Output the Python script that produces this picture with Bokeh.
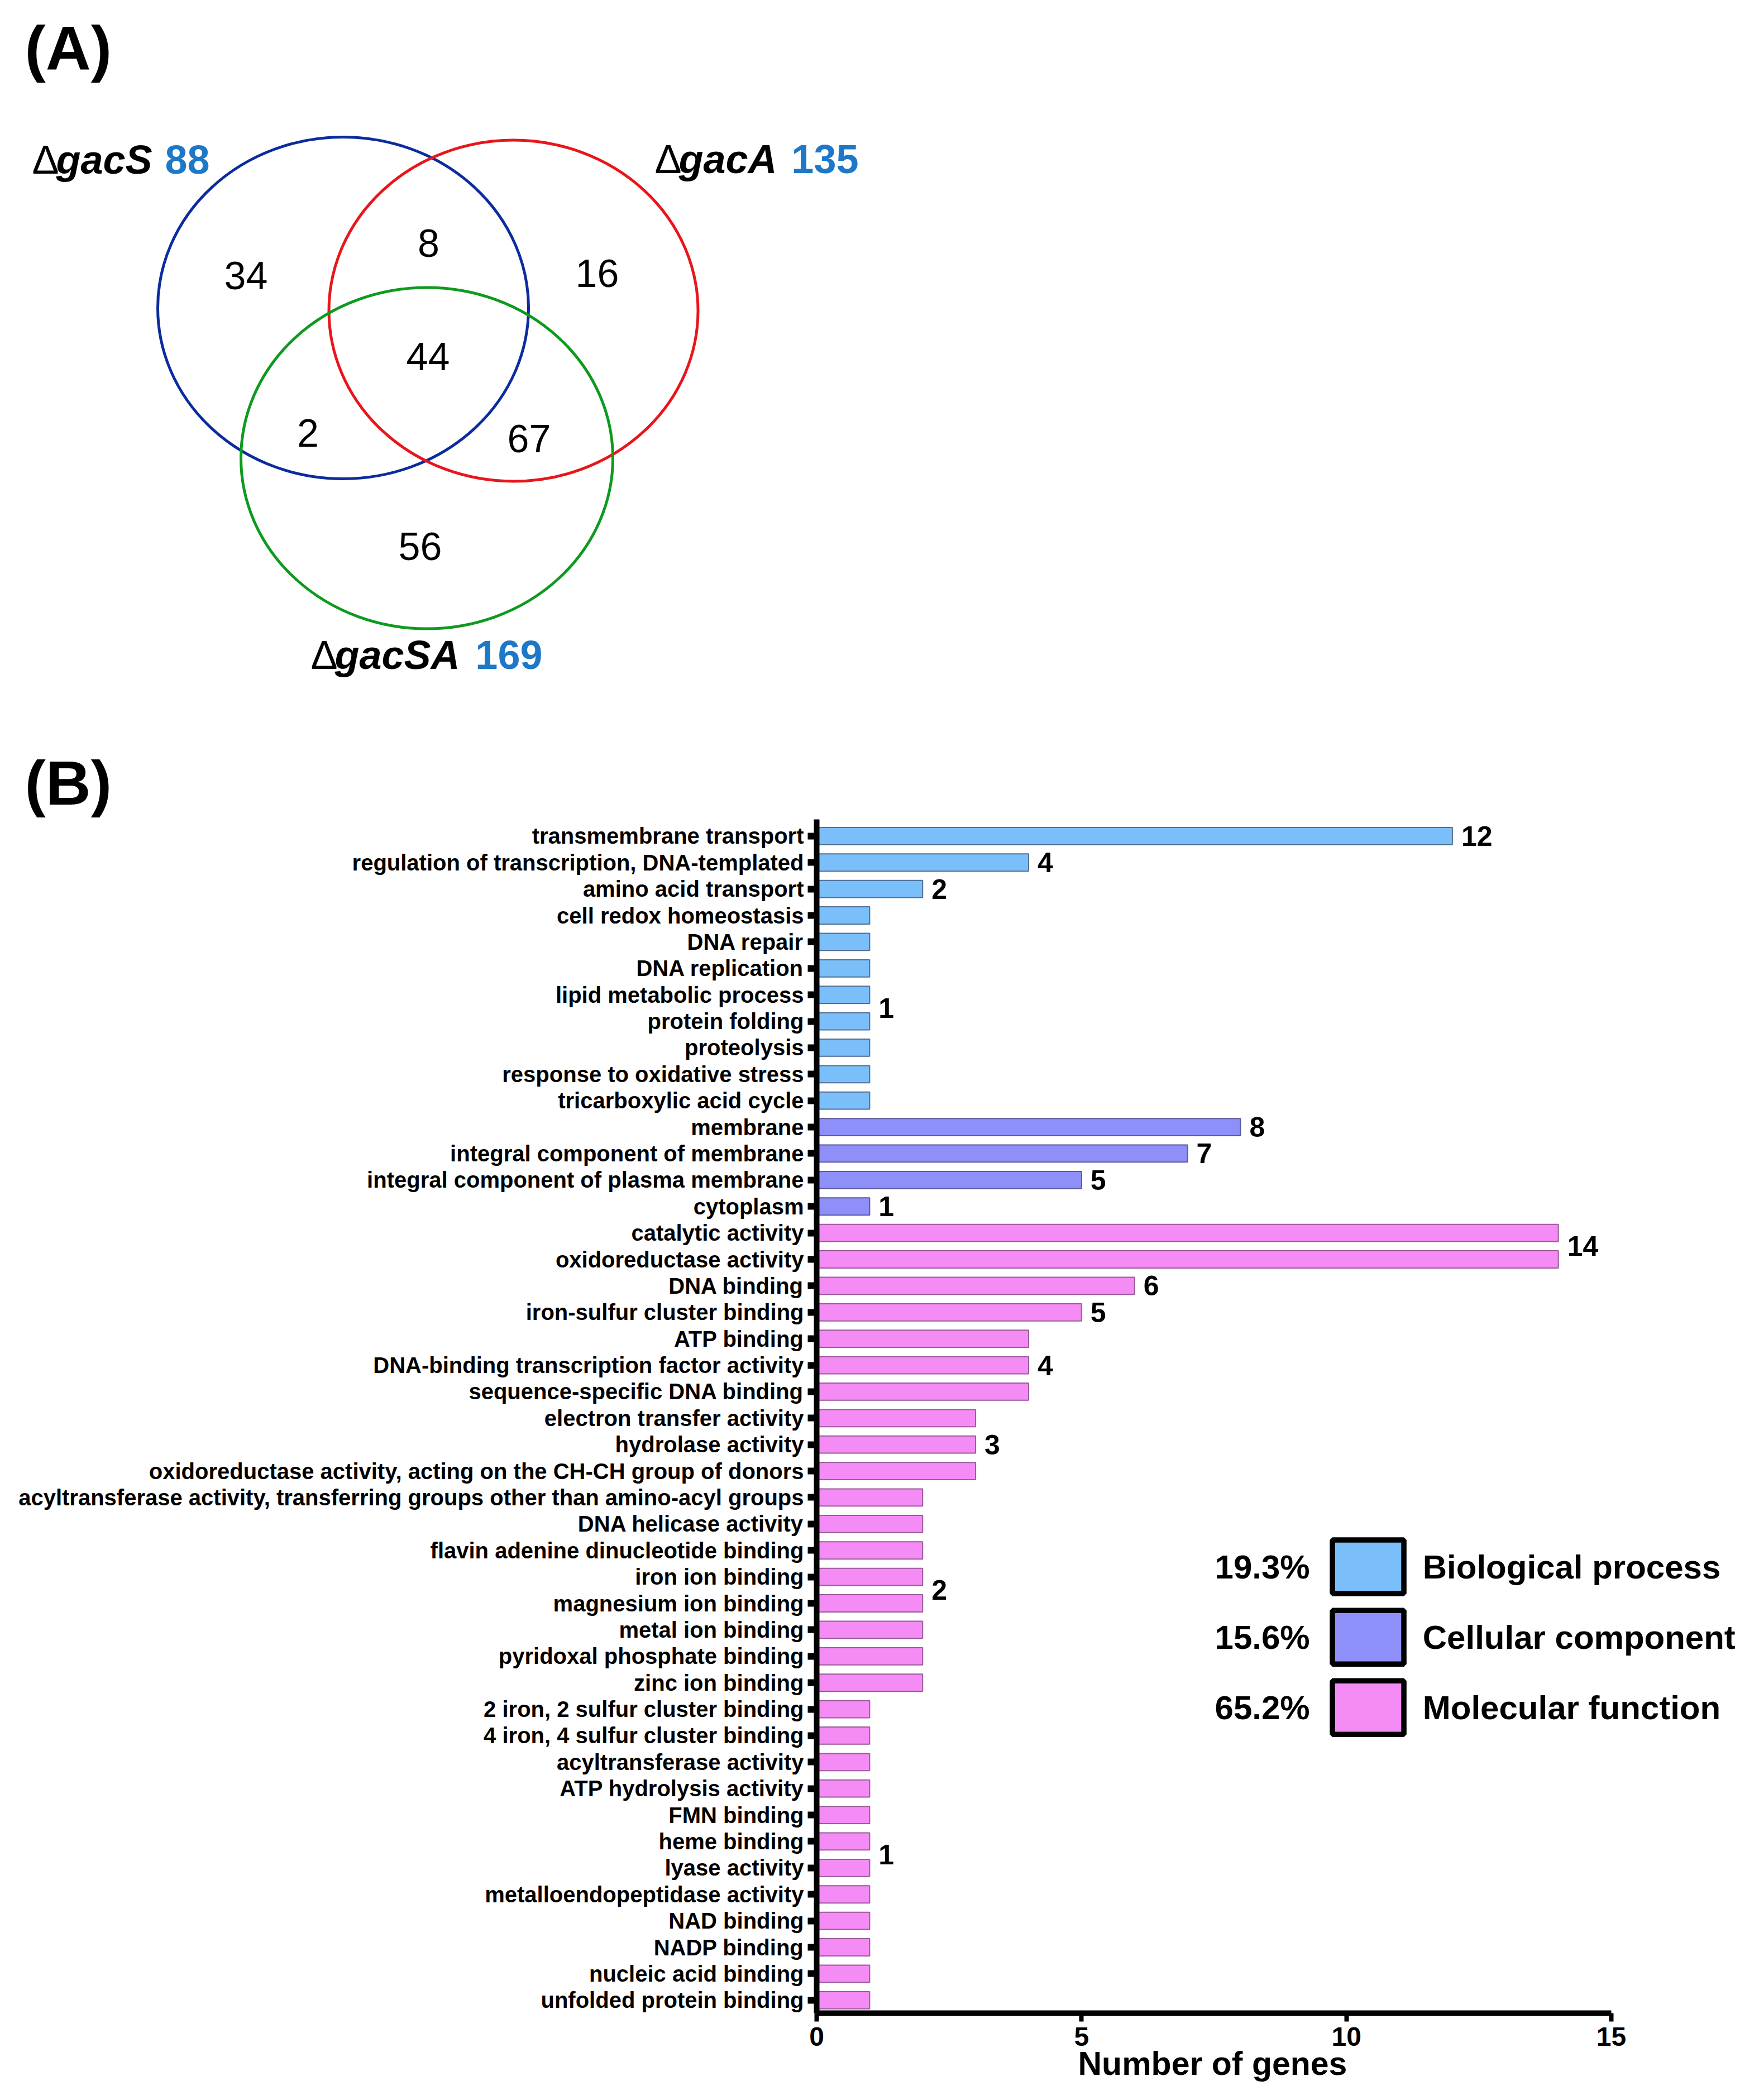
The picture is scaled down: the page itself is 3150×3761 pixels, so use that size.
from bokeh.plotting import figure
from bokeh.layouts import column
from bokeh.models import Range1d, FixedTicker, ColumnDataSource, LabelSet, Title
from bokeh.core.properties import value
from bokeh.embed import file_html
from bokeh.resources import INLINE

# ------------------------------------------------------------------ data
# (A) Venn diagram
venn_sets = ["gacS", "gacA", "gacSA"]
venn_totals = [88, 135, 169]
venn_regions = ["S", "A", "SA", "S&A", "S&SA", "A&SA", "S&A&SA"]
venn_counts = [34, 16, 56, 8, 2, 67, 44]

# (B) GO terms
bp_terms = ["transmembrane transport", "regulation of transcription, DNA-templated",
            "amino acid transport", "cell redox homeostasis", "DNA repair",
            "DNA replication", "lipid metabolic process", "protein folding",
            "proteolysis", "response to oxidative stress", "tricarboxylic acid cycle"]
bp_counts = [12, 4, 2, 1, 1, 1, 1, 1, 1, 1, 1]

cc_terms = ["membrane", "integral component of membrane",
            "integral component of plasma membrane", "cytoplasm"]
cc_counts = [8, 7, 5, 1]

mf_terms = ["catalytic activity", "oxidoreductase activity", "DNA binding",
            "iron-sulfur cluster binding", "ATP binding",
            "DNA-binding transcription factor activity", "sequence-specific DNA binding",
            "electron transfer activity", "hydrolase activity",
            "oxidoreductase activity, acting on the CH-CH group of donors",
            "acyltransferase activity, transferring groups other than amino-acyl groups",
            "DNA helicase activity", "flavin adenine dinucleotide binding",
            "iron ion binding", "magnesium ion binding", "metal ion binding",
            "pyridoxal phosphate binding", "zinc ion binding",
            "2 iron, 2 sulfur cluster binding", "4 iron, 4 sulfur cluster binding",
            "acyltransferase activity", "ATP hydrolysis activity", "FMN binding",
            "heme binding", "lyase activity", "metalloendopeptidase activity",
            "NAD binding", "NADP binding", "nucleic acid binding",
            "unfolded protein binding"]
mf_counts = [14, 14, 6, 5, 4, 4, 4, 3, 3, 3, 2, 2, 2, 2, 2, 2, 2, 2,
             1, 1, 1, 1, 1, 1, 1, 1, 1, 1, 1, 1]

group_names = ["Biological process", "Cellular component", "Molecular function"]
group_colors = ["#7BBFFA", "#8F8FFA", "#F58BF5"]
group_lines = ["#4F6F95", "#5A5AA0", "#9A5A9A"]
x_ticks = [0, 5, 10, 15]
x_axis_max = 15
x_title = "Number of genes"

FONT = "Liberation Sans"

# ------------------------------------------------------------------ layout constants (screen px)
PAGE_W = 3134
TOP_H = 1317          # screen y 8 .. 1325
BOT_H = 2428          # screen y 1325 .. 3753
BORDER_L = 1462
BORDER_R = 2
BORDER_T = 150
PX_PER_UNIT = 1423.0 / 15.0
X_END = (PAGE_W - BORDER_L - BORDER_R) / PX_PER_UNIT
X_TITLE_OFFSET = 468
PANEL_B_OFFSET = 52 - (8 + BORDER_L)

circle_cx = [622, 927, 772]
circle_cy = [559, 564, 828]
circle_w = [664, 661, 666]
circle_h = [612, 611, 611]
circle_colors = ["#0B2C9E", "#E8161B", "#0E9A1E"]

region_x = [448, 1077, 760, 775, 559, 955, 774]
region_base = [518, 514, 1003, 460, 800, 810, 663]

label_delta_x = [65, 1180, 564]
label_name_x = [108, 1223, 607]
label_num_right = [383, 1545, 979]
label_base = [311, 310, 1198]

BASE_FIX = 0.24   # renderer baseline correction (fraction of font size)


def fix(ys, fs):
    return [y - BASE_FIX * fs for y in ys]


# ------------------------------------------------------------------ (A) figure
pa = figure(width=PAGE_W, height=TOP_H, output_backend="svg", toolbar_location=None,
            x_range=Range1d(8, 8 + PAGE_W), y_range=Range1d(8 + TOP_H, 8),
            x_axis_location=None, y_axis_location=None, min_border=0,
            outline_line_color=None, tools="")
pa.frame_align = False
pa.xgrid.visible = False
pa.ygrid.visible = False

pa.ellipse(x=circle_cx, y=circle_cy, width=circle_w, height=circle_h,
           fill_alpha=0, line_color=circle_colors, line_width=5)

pa.text(x=region_x, y=fix(region_base, 70), text=[str(c) for c in venn_counts],
        text_font=value(FONT), text_font_size="70px", text_align="center",
        text_baseline="alphabetic", text_color="black")

pa.text(x=label_delta_x, y=fix(label_base, 72), text=["\u0394"] * 3,
        text_font=value(FONT), text_font_size="72px", text_align="left",
        text_baseline="alphabetic", text_color="black")
pa.text(x=label_name_x, y=fix(label_base, 72), text=venn_sets,
        text_font=value(FONT), text_font_size="72px", text_font_style="bold italic",
        text_align="left", text_baseline="alphabetic", text_color="black")
pa.text(x=label_num_right, y=fix(label_base, 72), text=[str(t) for t in venn_totals],
        text_font=value(FONT), text_font_size="72px", text_font_style="bold",
        text_align="right", text_baseline="alphabetic", text_color="#1E78C8")

pa.text(x=[52], y=fix([121], 112), text=["(A)"],
        text_font=value(FONT), text_font_size="112px", text_font_style="bold",
        text_align="left", text_baseline="alphabetic", text_color="black")

# ------------------------------------------------------------------ (B) figure
terms = bp_terms + cc_terms + mf_terms
counts = bp_counts + cc_counts + mf_counts
groups = [0] * len(bp_terms) + [1] * len(cc_terms) + [2] * len(mf_terms)
n = len(terms)
idx = list(range(n))

pb = figure(width=PAGE_W, height=BOT_H, output_backend="svg", toolbar_location=None,
            x_range=Range1d(0, X_END), y_range=Range1d(n - 0.51, -0.63),
            min_border_left=BORDER_L, min_border_right=BORDER_R, min_border_top=BORDER_T,
            min_border_bottom=140, outline_line_color=None, tools="")
pb.frame_align = False
pb.xgrid.visible = False
pb.ygrid.visible = False

# panel letter (B)
pb.add_layout(Title(text="(B)", align="left", offset=PANEL_B_OFFSET, standoff=6,
                    text_font=FONT, text_font_size="112px", text_font_style="bold",
                    text_color="black"), "above")

pb.hbar(y=idx, left=0, right=counts, height=0.65,
        fill_color=[group_colors[g] for g in groups],
        line_color=[group_lines[g] for g in groups], line_width=2)

# value labels: one per run of equal values inside a group
lab_x, lab_y, lab_t = [], [], []
start = 0
for i in range(1, n + 1):
    if i == n or counts[i] != counts[start] or groups[i] != groups[start]:
        lab_x.append(counts[start])
        lab_y.append((start + i - 1) / 2.0)
        lab_t.append(str(counts[start]))
        start = i
pb.text(x=lab_x, y=lab_y, text=lab_t, x_offset=16,
        text_font=value(FONT), text_font_size="50px", text_font_style="bold",
        text_align="left", text_baseline="middle", text_color="black")

# legend with percentages
group_totals = [sum(c for c, g in zip(counts, groups) if g == k) for k in range(3)]
grand = sum(group_totals)
pct = ["%.1f%%" % (100.0 * t / grand) for t in group_totals]
leg_box_x = 10.41
leg_pct_x = 9.31
leg_lab_x = 11.44
leg_y = [27.62 + 2.66 * k for k in range(3)]
pb.rect(x=[leg_box_x] * 3, y=leg_y, width=128, height=96,
        width_units="screen", height_units="screen",
        fill_color=group_colors, line_color="black", line_width=9.5)

pct_src = ColumnDataSource(dict(x=[leg_pct_x] * 3, y=leg_y, text=pct))
lab_src = ColumnDataSource(dict(x=[leg_lab_x] * 3, y=leg_y, text=group_names))
pb.add_layout(LabelSet(x="x", y="y", text="text", source=pct_src,
                       text_font=value(FONT), text_font_size="60px",
                       text_font_style="bold", text_align="right",
                       text_baseline="middle", text_color="black"))
pb.add_layout(LabelSet(x="x", y="y", text="text", source=lab_src,
                       text_font=value(FONT), text_font_size="60px",
                       text_font_style="bold", text_align="left",
                       text_baseline="middle", text_color="black"))

# axes
ya = pb.yaxis[0]
ya.ticker = FixedTicker(ticks=idx)
ya.major_label_overrides = {i: t for i, t in enumerate(terms)}
ya.axis_line_width = 10
ya.axis_line_color = "black"
ya.major_tick_line_width = 12
ya.major_tick_line_color = "black"
ya.major_tick_out = 16
ya.major_tick_in = 0
ya.minor_tick_line_color = None
ya.major_label_standoff = 7
ya.major_label_text_font = FONT
ya.major_label_text_font_style = "bold"
ya.major_label_text_font_size = "40px"
ya.major_label_text_color = "black"

xa = pb.xaxis[0]
xa.bounds = (0, x_axis_max)
xa.ticker = FixedTicker(ticks=x_ticks)
xa.axis_line_width = 10
xa.axis_line_color = "black"
xa.major_tick_line_width = 8
xa.major_tick_line_color = "black"
xa.major_tick_out = 15
xa.major_tick_in = 0
xa.minor_tick_line_color = None
xa.major_label_standoff = 10
xa.major_label_text_font = FONT
xa.major_label_text_font_style = "bold"
xa.major_label_text_font_size = "48px"
xa.major_label_text_color = "black"

# x-axis title, centred under the 0..15 axis span
pb.add_layout(Title(text=x_title, align="left", offset=X_TITLE_OFFSET, standoff=-12,
                    text_font=FONT, text_font_size="59px", text_font_style="bold",
                    text_color="black"), "below")

layout = column(pa, pb, spacing=0)
open("out.html", "w").write(file_html(layout, INLINE))
